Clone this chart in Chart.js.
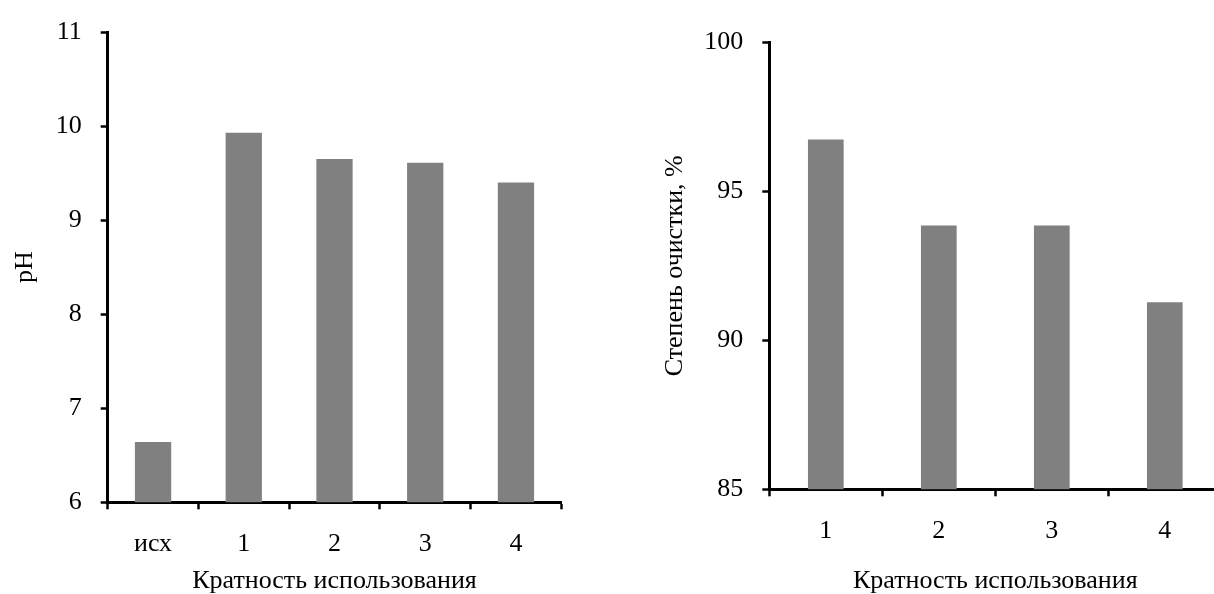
<!DOCTYPE html>
<html>
<head>
<meta charset="utf-8">
<script src="https://cdn.jsdelivr.net/npm/chart.js@4"></script>
<style>
  html, body { margin: 0; padding: 0; background: #fff; overflow: hidden; }
  #wrap { position: relative; width: 1214px; height: 594px; overflow: hidden; }
  #left { position: absolute; left: 0; top: 0; }
  #right { position: absolute; left: 607px; top: 0; }
</style>
</head>
<body>
<div id="wrap">
  <canvas id="left" width="607" height="594"></canvas>
  <canvas id="right" width="620" height="594"></canvas>
</div>
<script>
// left chart: pH
const phLabels = ["исх", "1", "2", "3", "4"]
const phValues = [6.64, 9.93, 9.65, 9.61, 9.40]
const phMin = 6
const phMax = 11
const phStep = 1

// right chart: degree of purification
const cleanLabels = ["1", "2", "3", "4"]
const cleanValues = [96.74, 93.85, 93.85, 91.28]
const cleanMin = 85
const cleanMax = 100
const cleanStep = 5

const xTitle = "Кратность использования"
const phTitle = "pH"
const cleanTitle = "Степень очистки, %"

const FONT = "'Liberation Serif', 'Times New Roman', serif"

function makeChart(el, labels, values, cfg) {
  return new Chart(el.getContext("2d"), {
    type: "bar",
    data: {
      labels: labels,
      datasets: [{
        data: values,
        backgroundColor: "#808080",
        borderWidth: 0,
        barPercentage: cfg.bar,
        categoryPercentage: 1,
      }],
    },
    options: {
      responsive: false,
      animation: false,
      layout: { padding: { left: 0, top: cfg.top, right: cfg.right, bottom: 0 } },
      plugins: { legend: { display: false }, tooltip: { enabled: false } },
      scales: {
        x: {
          afterFit: (s) => { s.height = cfg.xHeight },
          grid: { display: true, drawOnChartArea: false, drawTicks: true, tickLength: 7, tickWidth: 2.5, tickColor: "#000", offset: true },
          border: { display: true, color: "#000", width: 3 },
          ticks: { color: "#000", padding: 22, font: { family: FONT, size: 26, lineHeight: 1 } },
          title: { display: true, text: xTitle, color: "#000", padding: { top: 0, bottom: 0 }, font: { family: FONT, size: 26, lineHeight: 1 } },
        },
        y: {
          min: cfg.min,
          max: cfg.max,
          afterFit: (s) => { s.width = cfg.yWidth },
          grid: { display: true, drawOnChartArea: false, drawTicks: true, tickLength: 7, tickWidth: 2.5, tickColor: "#000" },
          border: { display: true, color: "#000", width: 3 },
          ticks: { stepSize: cfg.step, color: "#000", padding: 19, font: { family: FONT, size: 26, lineHeight: 1 } },
          title: { display: true, text: cfg.yTitle, color: "#000", padding: { top: cfg.yTitlePad, bottom: 0 }, font: { family: FONT, size: 26, lineHeight: 1 } },
        },
      },
    },
  })
}

makeChart(document.getElementById("left"), phLabels, phValues, {
  bar: 0.4, top: 24, right: 45.7, xHeight: 91.7, yWidth: 107.7,
  min: phMin, max: phMax, step: phStep, yTitle: phTitle, yTitlePad: 12.5,
})

makeChart(document.getElementById("right"), cleanLabels, cleanValues, {
  bar: 0.316, top: 42.3, right: 5.7, xHeight: 104.7, yWidth: 162.3,
  min: cleanMin, max: cleanMax, step: cleanStep, yTitle: cleanTitle, yTitlePad: 55.5,
})
</script>
</body>
</html>
